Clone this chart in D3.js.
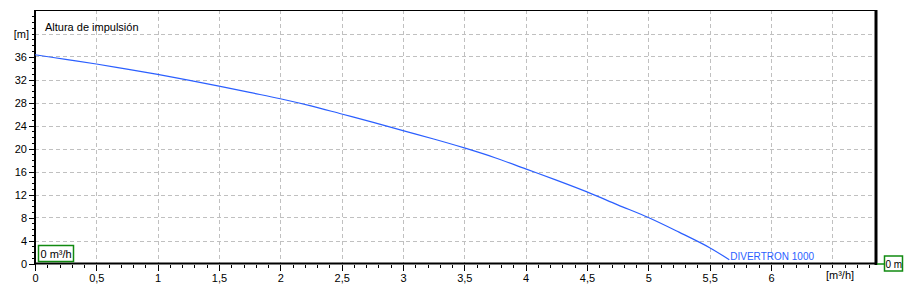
<!DOCTYPE html>
<html><head><meta charset="utf-8">
<script src="https://cdn.jsdelivr.net/npm/d3@7"></script>
<style>body{margin:0;background:#fff}svg{display:block}text{font-family:"Liberation Sans",Arial,sans-serif;font-size:11px}</style>
</head><body><svg id="c" width="906" height="294"></svg>
<script>
const flow = [0, 0.25, 0.5, 0.75, 1, 1.25, 1.5, 1.75, 2, 2.25, 2.5, 2.75, 3, 3.25, 3.5, 3.75, 4, 4.25, 4.5, 4.75, 5, 5.25, 5.5, 5.66];
const head = [36.3, 35.5, 34.7, 33.8, 32.9, 31.9, 30.85, 29.75, 28.65, 27.4, 26.0, 24.6, 23.1, 21.65, 20.1, 18.4, 16.45, 14.5, 12.45, 10.2, 8.0, 5.45, 2.75, 0.65];
const xTickValues = [0, 0.5, 1, 1.5, 2, 2.5, 3, 3.5, 4, 4.5, 5, 5.5, 6];
const xTickLabels = ["0", "0,5", "1", "1,5", "2", "2,5", "3", "3,5", "4", "4,5", "5", "5,5", "6"];
const yTickValues = [0, 4, 8, 12, 16, 20, 24, 28, 32, 36];
const seriesName = "DIVERTRON 1000";
const yTitle = "Altura de impulsión";
const xUnit = "[m³/h]", yUnit = "[m]";
const xBoxLabel = "0 m³/h", yBoxLabel = "0 m";

const svg = d3.select("#c");
const L = 35, R = 876, T = 10, B = 263.5;
const x = d3.scaleLinear().domain([0, 6.856]).range([L, R]);
const y = d3.scaleLinear().domain([0, 44]).range([B, 10.5]);
const blue = "#2b5fff", green = "#118a11", grid = "#c0c0c0";
const px = v => Math.round(v) + 0.5;

// grid
const gGrid = svg.append("g").attr("shape-rendering", "crispEdges");
gGrid.selectAll("line.v").data(d3.range(1, 14).map(i => i * 0.5)).join("line")
  .attr("x1", d => px(x(d))).attr("x2", d => px(x(d))).attr("y1", T).attr("y2", B)
  .attr("stroke", grid).attr("stroke-dasharray", "4,3");
gGrid.selectAll("line.h").data(d3.range(1, 11).map(i => i * 4)).join("line")
  .attr("y1", d => px(y(d))).attr("y2", d => px(y(d))).attr("x1", L).attr("x2", R)
  .attr("stroke", grid).attr("stroke-dasharray", "4,3");

// frame
svg.append("line").attr("x1", L).attr("x2", R).attr("y1", 10.5).attr("y2", 10.5).attr("stroke", "#000");
svg.append("line").attr("x1", 876).attr("x2", 876).attr("y1", 10).attr("y2", 265).attr("stroke", "#000").attr("stroke-width", 3);

// y axis
const yAxis = d3.axisLeft(y).tickValues(yTickValues).tickSize(6).tickPadding(2).tickFormat(d3.format("d"));
const gy = svg.append("g").attr("transform", `translate(${L},0)`).attr("shape-rendering", "crispEdges").call(yAxis);
gy.select(".domain").remove();
gy.selectAll(".tick line").attr("stroke", "#000");
gy.selectAll(".tick text").attr("fill", "#000").style("font-size", "11px").style("font-family", "Liberation Sans, Arial, sans-serif");
const yMinor = d3.axisLeft(y).tickValues(d3.range(0, 44)).tickSize(3).tickFormat("");
const gym = svg.append("g").attr("transform", `translate(${L},0)`).attr("shape-rendering", "crispEdges").call(yMinor);
gym.select(".domain").remove();
gym.selectAll(".tick line").attr("stroke", "#000");
svg.append("line").attr("x1", L).attr("x2", L).attr("y1", T).attr("y2", 265).attr("stroke", "#000").attr("stroke-width", 2);
svg.append("text").attr("x", 29).attr("y", y(40) + 4).attr("text-anchor", "end").text(yUnit);

// x axis
const xAxis = d3.axisBottom(x).tickValues(xTickValues).tickSize(6).tickPadding(4).tickFormat((d, i) => xTickLabels[i]);
const gx = svg.append("g").attr("transform", `translate(0,${B + 1})`).attr("shape-rendering", "crispEdges").call(xAxis);
gx.select(".domain").remove();
gx.selectAll(".tick line").attr("stroke", "#000");
gx.selectAll(".tick text").attr("fill", "#000").style("font-size", "11px").style("font-family", "Liberation Sans, Arial, sans-serif");
const xMinor = d3.axisBottom(x).tickValues(d3.range(0, 69).map(i => i / 10)).tickSize(3).tickFormat("");
const gxm = svg.append("g").attr("transform", `translate(0,${B + 1})`).attr("shape-rendering", "crispEdges").call(xMinor);
gxm.select(".domain").remove();
gxm.selectAll(".tick line").attr("stroke", "#000");
svg.append("line").attr("x1", L).attr("x2", 877).attr("y1", B).attr("y2", B).attr("stroke", "#000").attr("stroke-width", 2);
svg.append("text").attr("x", 840).attr("y", 279).attr("text-anchor", "middle").text(xUnit);

// title
svg.append("text").attr("x", 45).attr("y", 31).text(yTitle);

// curve
const pts = flow.map((f, i) => [f, head[i]]);
svg.append("path").datum(pts)
  .attr("d", d3.line().x(d => x(d[0])).y(d => y(d[1])).curve(d3.curveCatmullRom.alpha(0.5)))
  .attr("fill", "none").attr("stroke", blue).attr("stroke-width", 1.2);
const last = pts[pts.length - 1];
svg.append("text").attr("x", x(last[0]) + 1).attr("y", y(last[1]) + 0.5).attr("fill", blue).style("font-size", "10px").text(seriesName);

// boxes
const b1 = svg.append("g");
b1.append("rect").attr("x", 38.5).attr("y", 245.5).attr("width", 35).attr("height", 16).attr("fill", "#fff").attr("stroke", green).attr("stroke-width", 1.5);
b1.append("text").attr("x", 40.5).attr("y", 258).text(xBoxLabel);
svg.append("line").attr("x1", 877).attr("x2", 885).attr("y1", 264).attr("y2", 264).attr("stroke", green).attr("stroke-width", 1.5);
svg.append("rect").attr("x", 884.5).attr("y", 256).attr("width", 18).attr("height", 15).attr("fill", "#fff").attr("stroke", green).attr("stroke-width", 1.5);
svg.append("text").attr("x", 885.5).attr("y", 268).style("font-size", "10px").text(yBoxLabel);
</script></body></html>
